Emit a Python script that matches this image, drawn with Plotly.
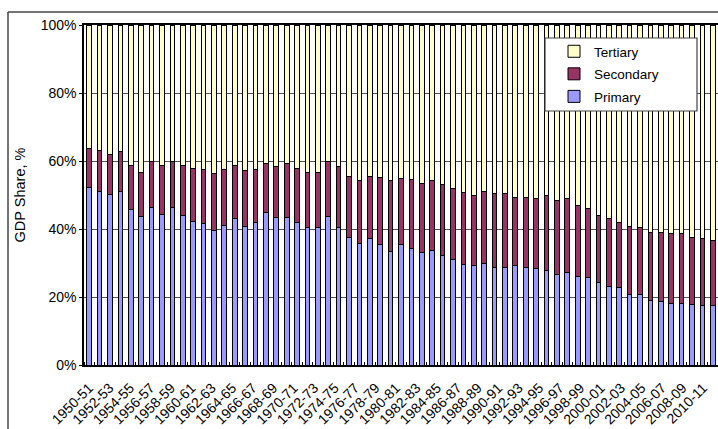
import plotly.graph_objects as go

# Fiscal years shown on the x axis
years = [
    "1950-51", "1951-52", "1952-53", "1953-54", "1954-55", "1955-56", "1956-57", "1957-58",
    "1958-59", "1959-60", "1960-61", "1961-62", "1962-63", "1963-64", "1964-65", "1965-66",
    "1966-67", "1967-68", "1968-69", "1969-70", "1970-71", "1971-72", "1972-73", "1973-74",
    "1974-75", "1975-76", "1976-77", "1977-78", "1978-79", "1979-80", "1980-81", "1981-82",
    "1982-83", "1983-84", "1984-85", "1985-86", "1986-87", "1987-88", "1988-89", "1989-90",
    "1990-91", "1991-92", "1992-93", "1993-94", "1994-95", "1995-96", "1996-97", "1997-98",
    "1998-99", "1999-00", "2000-01", "2001-02", "2002-03", "2003-04", "2004-05", "2005-06",
    "2006-07", "2007-08", "2008-09", "2009-10", "2010-11",
]

# Sector shares of GDP, %
primary = [
    52.2, 51.0, 50.1, 51.0, 45.7, 43.6, 46.4, 44.4, 46.4, 44.0, 42.3, 41.5, 39.6, 41.0, 43.1, 40.7,
    41.9, 44.9, 43.5, 43.5, 41.9, 40.3, 40.3, 43.6, 40.3, 37.4, 35.8, 37.1, 35.3, 33.3, 35.3, 34.3,
    33.0, 33.7, 32.2, 30.9, 29.7, 29.2, 30.0, 28.8, 28.8, 29.2, 28.8, 28.4, 27.9, 26.5, 27.3, 26.1,
    25.6, 24.4, 23.2, 22.8, 20.7, 20.7, 19.1, 18.6, 18.2, 18.2, 17.8, 17.4, 17.4,
]
secondary = [
    11.5, 12.2, 11.9, 11.9, 13.1, 13.1, 13.5, 14.3, 13.5, 14.7, 15.5, 16.0, 16.8, 16.5, 15.7, 16.5,
    15.7, 14.3, 14.8, 15.7, 15.9, 16.4, 16.4, 16.3, 18.0, 18.0, 18.5, 18.4, 19.8, 21.0, 19.6, 20.3,
    20.4, 20.5, 20.8, 21.0, 21.0, 20.6, 21.0, 21.5, 21.5, 20.2, 20.6, 20.6, 21.9, 22.0, 21.6, 20.8,
    20.5, 19.6, 20.0, 19.2, 20.0, 19.6, 20.0, 20.5, 20.5, 20.5, 19.7, 19.7, 19.3,
]
tertiary = [round(100 - p - s, 1) for p, s in zip(primary, secondary)]

# Every second fiscal year gets a label
tick_idx = list(range(0, len(years), 2))
tick_txt = [years[i] for i in tick_idx]

xs = list(range(len(years)))
n = len(years)
line = dict(color="#000000", width=1)

fig = go.Figure()
for rank, (name, vals, col) in zip([3, 2, 1], [("Primary", primary, "#9999FF"),
                                               ("Secondary", secondary, "#993366"),
                                               ("Tertiary", tertiary, "#FFFFCC")]):
    fig.add_trace(go.Bar(name=name, x=xs, y=vals, legendgroup=name, legendrank=rank,
                         marker=dict(color=col, line=line), width=0.45))

# carrier for the label axis (draws nothing itself)
fig.add_trace(go.Scatter(x=xs, y=primary, xaxis="x2", mode="none",
                         showlegend=False, hoverinfo="skip"))

font = "Liberation Sans, Arial, sans-serif"
W, H = 718, 429
L, R, T, B = 74, 0, 25, 64
AX_LEFT = 84                      # pixel where the plot frame starts
pw, ph = W - L - R, H - T - B
dom0 = (AX_LEFT - L) / pw
step = (W - AX_LEFT) / n          # pixels per fiscal year


def px_x(x):
    return (x - L) / pw


def px_y(y):
    return 1 - (y - T) / ph


fig.update_layout(
    width=W,
    height=H,
    barmode="stack",
    paper_bgcolor="white",
    plot_bgcolor="white",
    margin=dict(l=L, r=R, t=T, b=B),
    font=dict(family=font, size=13, color="#000000"),
    showlegend=True,
    legend=dict(
        traceorder="grouped",
        x=px_x(554), y=px_y(36), xanchor="left", yanchor="top",
        bgcolor="rgba(0,0,0,0)", borderwidth=0,
        font=dict(size=13.5), itemwidth=30, tracegroupgap=2,
    ),
    xaxis=dict(
        domain=[dom0, 1],
        range=[-0.5, n - 0.5],
        showticklabels=False, ticks="", showgrid=False, zeroline=False,
        automargin=False,
        showline=True, linecolor="#000000", linewidth=1.5, mirror=True,
        minor=dict(tickmode="linear", tick0=0.5, dtick=1, ticks="inside", ticklen=3,
                   tickcolor="#000000", showgrid=False),
    ),
    # label axis: same scale, slightly wider, so the rotated labels sit left of their bars
    xaxis2=dict(
        overlaying="x", anchor="y", side="bottom", domain=[0, 1],
        range=[-0.5, -0.5 + pw / step],
        tickmode="array", tickvals=tick_idx, ticktext=tick_txt,
        tickangle=-45, tickfont=dict(size=14), ticklabeloverflow="allow",
        ticklabelstandoff=11, ticks="", showgrid=False, zeroline=False,
        showline=False, automargin=False,
    ),
    yaxis=dict(
        range=[0, 100], tickmode="linear", tick0=0, dtick=20, ticksuffix="%",
        ticks="outside", ticklen=3, tickcolor="#000000", tickfont=dict(size=14),
        showgrid=True, gridcolor="#555555", gridwidth=1, automargin=False,
        showline=True, linecolor="#000000", linewidth=1.5, zeroline=False,
        title=dict(text="GDP Share, %", font=dict(size=14.5), standoff=12),
    ),
    shapes=[
        # outer chart frame
        dict(type="line", xref="paper", yref="paper", x0=px_x(8), x1=px_x(730),
             y0=px_y(12), y1=px_y(12), line=dict(color="#444444", width=1.5)),
        dict(type="line", xref="paper", yref="paper", x0=px_x(8), x1=px_x(8),
             y0=px_y(12), y1=px_y(440), line=dict(color="#444444", width=1.5)),
        # legend frame
        dict(type="rect", xref="paper", yref="paper", x0=px_x(545), x1=px_x(697),
             y0=px_y(38), y1=px_y(111), fillcolor="white",
             line=dict(color="#444444", width=1.2), layer="above"),
    ],
)

fig.write_html("out.html")
